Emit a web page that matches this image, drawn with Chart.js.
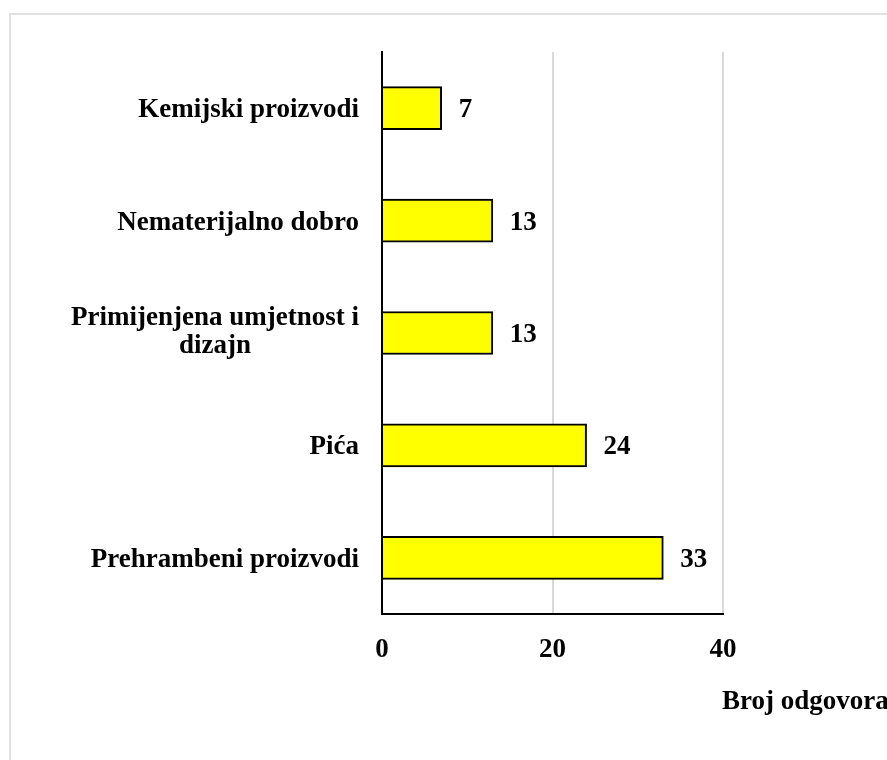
<!DOCTYPE html>
<html>
<head>
<meta charset="utf-8">
<script src="https://cdn.jsdelivr.net/npm/chart.js@4/dist/chart.umd.min.js"></script>
<style>
html,body{margin:0;padding:0;background:#fff;overflow:hidden}
#wrap{position:relative;width:887px;height:760px}
canvas{display:block}
</style>
</head>
<body>
<div id="wrap"><canvas id="c" width="887" height="760" style="width:887px;height:760px"></canvas></div>
<script>
// ---- data ----
const categories = [
  ['Kemijski proizvodi'],
  ['Nematerijalno dobro'],
  ['Primijenjena umjetnost i', 'dizajn'],
  ['Pića'],
  ['Prehrambeni proizvodi']
];
const responses = [7, 13, 13, 24, 33];
const xTicks = [0, 20, 40];
const axisTitle = 'Broj odgovora';

// ---- styling ----
const FAMILY = '"Liberation Serif", "Times New Roman", serif';
const SIZE = 27;
const FONT = 'bold ' + SIZE + 'px ' + FAMILY;

const frame = {
  id: 'frame',
  beforeDraw(chart) {
    const ctx = chart.ctx;
    ctx.save();
    ctx.fillStyle = '#fff';
    ctx.fillRect(0, 0, chart.width, chart.height);
    ctx.strokeStyle = '#e0e0e0';
    ctx.lineWidth = 2;
    ctx.strokeRect(10, 14, 2000, 2000);
    ctx.restore();
  }
};

const texts = {
  id: 'texts',
  afterDraw(chart) {
    const ctx = chart.ctx;
    const yScale = chart.scales.y;
    const meta = chart.getDatasetMeta(0);
    ctx.save();
    ctx.font = FONT;
    ctx.fillStyle = '#000';
    ctx.textBaseline = 'alphabetic';

    // category labels (right-aligned block, lines centred within it)
    ctx.textAlign = 'center';
    const right = yScale.right - 23;
    categories.forEach((lines, i) => {
      const y = yScale.getPixelForValue(i);
      const maxW = Math.max(...lines.map(l => ctx.measureText(l).width));
      const cx = right - maxW / 2;
      let base = y + 9 - (lines.length - 1) * 17;
      lines.forEach(l => { ctx.fillText(l, cx, base); base += 28; });
    });

    // value labels
    ctx.textAlign = 'left';
    meta.data.forEach((bar, i) => {
      ctx.fillText(String(responses[i]), bar.x + 17, bar.y + 9);
    });

    // axis title
    ctx.fillText(axisTitle, chart.chartArea.right - 1, 709);
    ctx.restore();
  }
};

new Chart(document.getElementById('c'), {
  type: 'bar',
  data: {
    labels: categories.map(c => c.join(' ')),
    datasets: [{
      data: responses,
      backgroundColor: '#FFFF00',
      borderColor: '#000',
      borderWidth: 2,
      borderSkipped: 'start',
      barThickness: 43
    }]
  },
  options: {
    indexAxis: 'y',
    responsive: false,
    animation: false,
    plugins: { legend: { display: false }, tooltip: { enabled: false } },
    layout: { padding: { top: 52, right: 164, left: 0, bottom: 0 } },
    scales: {
      x: {
        min: 0, max: 40,
        afterBuildTicks: s => { s.ticks = xTicks.map(v => ({ value: v })); },
        afterFit: s => { s.height = 146; },
        grid: {
          color: c => (c.tick && c.tick.value === 0) ? 'rgba(0,0,0,0)' : '#d9d9d9',
          lineWidth: 2,
          drawTicks: false
        },
        border: { display: true, color: '#000', width: 2 },
        ticks: {
          font: { family: FAMILY, size: SIZE, weight: 'bold' },
          color: '#000',
          padding: 20,
          maxRotation: 0
        }
      },
      y: {
        z: 1,
        afterFit: s => { s.width = 382; },
        grid: { display: false },
        border: { display: true, color: '#000', width: 2 },
        ticks: { display: false }
      }
    }
  },
  plugins: [frame, texts]
});
</script>
</body>
</html>
